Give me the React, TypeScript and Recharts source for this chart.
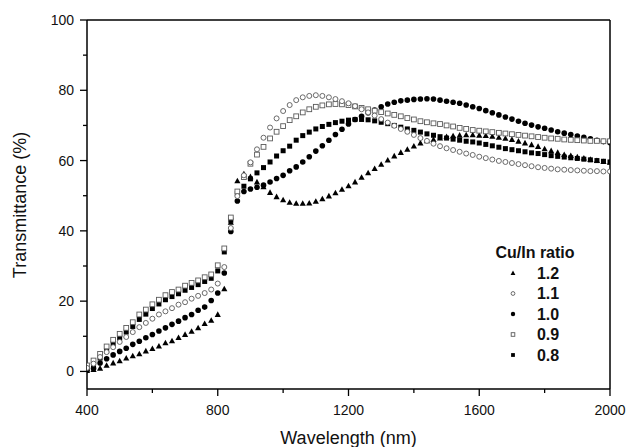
import React from 'react';
import { ScatterChart, Scatter, XAxis, YAxis, ReferenceLine } from 'recharts';

const wavelengths = [
  400, 420, 440, 460, 480, 500, 520, 540, 560, 580,
  600, 620, 640, 660, 680, 700, 720, 740, 760, 780,
  800, 820, 840, 860, 880, 900, 920, 940, 960, 980,
  1000, 1020, 1040, 1060, 1080, 1100, 1120, 1140, 1160, 1180,
  1200, 1220, 1240, 1260, 1280, 1300, 1320, 1340, 1360, 1380,
  1400, 1420, 1440, 1460, 1480, 1500, 1520, 1540, 1560, 1580,
  1600, 1620, 1640, 1660, 1680, 1700, 1720, 1740, 1760, 1780,
  1800, 1820, 1840, 1860, 1880, 1900, 1920, 1940, 1960, 1980,
  2000,
];

const ratio12 = [
  0.2, 0.5, 0.9, 1.7, 2.4, 3.0, 3.8, 4.4, 5.0, 5.8,
  6.5, 7.2, 8.1, 8.7, 9.6, 10.5, 11.4, 12.4, 13.6, 14.5,
  16.2, 23.5, 42.4, 54.2, 56.2, 55.4, 53.9, 52.5, 50.9, 49.7,
  48.8, 48.1, 47.8, 47.8, 47.9, 48.4, 49.1, 49.9, 50.8, 51.8,
  52.8, 53.9, 55.2, 56.5, 57.7, 58.9, 60.1, 61.3, 62.3, 63.2,
  64.1, 65.0, 65.6, 66.0, 66.4, 66.8, 67.0, 67.2, 67.3, 67.3,
  67.2, 67.1, 66.9, 66.6, 66.3, 66.0, 65.5, 65.0, 64.5, 64.0,
  63.3, 62.8, 62.3, 61.7, 61.4, 61.0, 60.7, 60.3, 60.0, 59.7,
  59.5,
];

const ratio11 = [
  1.0, 2.2, 4.1, 5.5, 6.9, 8.4, 9.8, 11.2, 12.6, 13.8,
  15.0, 16.2, 17.1, 18.0, 19.0, 19.7, 20.7, 21.5, 22.3, 23.3,
  25.0, 29.7, 40.8, 49.9, 55.8, 59.5, 63.2, 66.5, 69.4, 72.0,
  74.1, 75.8, 77.2, 78.0, 78.4, 78.6, 78.4, 78.0, 77.5, 76.9,
  76.3, 75.5, 74.6, 73.7, 72.8, 71.8, 70.8, 69.9, 69.0, 68.2,
  67.3, 66.4, 65.6, 64.8, 64.1, 63.5, 63.0, 62.5, 62.0, 61.6,
  61.1, 60.7, 60.3, 59.9, 59.6, 59.3, 59.0, 58.7, 58.4, 58.1,
  57.9, 57.7, 57.5, 57.4, 57.3, 57.2, 57.1, 57.0, 57.0, 56.9,
  56.9,
];

const ratio10 = [
  0.3, 0.8, 2.4, 3.6, 4.7, 5.7, 6.6, 7.7, 8.6, 9.6,
  10.5, 11.5, 12.4, 13.4, 14.3, 15.3, 16.2, 17.4, 18.3, 20.2,
  22.3, 28.0, 39.8, 48.5, 51.2, 51.9, 52.4, 53.0, 53.9, 54.9,
  55.8, 57.1, 58.2, 59.6, 61.1, 62.7, 64.2, 65.8, 67.4, 68.9,
  70.4, 71.7, 72.6, 73.6, 74.4, 75.3, 76.1, 76.6, 77.0, 77.2,
  77.4, 77.5, 77.6, 77.5, 77.2, 76.9, 76.6, 76.3, 75.8, 75.3,
  74.8, 74.2, 73.6, 73.0, 72.4, 71.8, 71.2, 70.6, 70.1, 69.6,
  69.2, 68.7, 68.2, 67.8, 67.4, 67.0, 66.6, 66.2, 65.8, 65.4,
  65.1,
];

const ratio09 = [
  1.7, 3.1, 5.0, 7.1, 9.0, 10.7, 12.4, 14.0, 16.2, 17.6,
  19.1, 20.4, 21.7, 22.6, 23.3, 24.4, 25.2, 25.9, 26.8, 27.6,
  30.2, 35.0, 43.8, 51.2, 55.3, 59.1, 61.7, 63.9, 66.3, 68.2,
  69.8, 71.5, 72.6, 73.7, 74.6, 75.3, 75.7, 76.0, 76.1, 76.0,
  75.8, 75.4, 75.0, 74.6, 74.2, 73.8, 73.4, 73.0, 72.6, 72.1,
  71.7, 71.2, 70.9, 70.6, 70.4, 70.0, 69.7, 69.3, 69.0, 68.7,
  68.5, 68.3, 68.1, 67.9, 67.7, 67.5, 67.3, 67.1, 66.9, 66.7,
  66.5, 66.3, 66.2, 66.0, 65.9, 65.8, 65.7, 65.6, 65.6, 65.5,
  65.5,
];

const ratio08 = [
  0.7, 1.9, 3.8, 5.9, 7.9, 9.6, 11.2, 12.8, 14.8, 16.3,
  17.9, 19.2, 20.4, 21.3, 22.1, 23.1, 23.9, 24.7, 25.6, 26.5,
  28.6, 34.0, 43.0, 50.6, 52.7, 54.8, 56.5, 58.0, 59.6, 61.3,
  62.8, 64.1, 65.8, 67.1, 68.1, 69.0, 69.7, 70.3, 70.8, 71.2,
  71.5, 71.7, 71.7, 71.6, 71.3, 70.9, 70.5, 70.0, 69.5, 69.0,
  68.6, 68.1, 67.6, 67.2, 66.8, 66.4, 66.1, 65.8, 65.5, 65.3,
  65.0, 64.6, 64.2, 63.8, 63.4, 63.1, 62.8, 62.5, 62.2, 62.0,
  61.7, 61.4, 61.2, 61.0, 60.8, 60.6, 60.4, 60.2, 60.0, 59.8,
  59.6,
];

const xTicks = [400, 600, 800, 1000, 1200, 1400, 1600, 1800, 2000];
const xLabelTicks = [400, 800, 1200, 1600, 2000];
const yTicks = [0, 10, 20, 30, 40, 50, 60, 70, 80, 90, 100];
const yLabelTicks = [0, 20, 40, 60, 80, 100];

const legendTitle = 'Cu/In ratio';
const seriesLabels = ['1.2', '1.1', '1.0', '0.9', '0.8'];
const seriesKinds = ['triangle', 'openCircle', 'circle', 'openSquare', 'square'];

const FONT = "Arial, 'Liberation Sans', sans-serif";
const OPEN_STROKE = '#5a5a5a';

const toPoints = (vals: number[]) => vals.map((v, i) => ({ x: wavelengths[i], y: v }));

function drawMarker(kind: string, cx: number, cy: number, s: number) {
  switch (kind) {
    case 'triangle': {
      const h = s * 0.95;
      const w = s * 1.1;
      return (
        <polygon
          points={`${cx},${cy - h * 0.6} ${cx - w / 2},${cy + h * 0.45} ${cx + w / 2},${cy + h * 0.45}`}
          fill="#000"
        />
      );
    }
    case 'openCircle':
      return <circle cx={cx} cy={cy} r={s / 2 - 0.3} fill="#fff" stroke={OPEN_STROKE} strokeWidth={0.9} />;
    case 'circle':
      return <circle cx={cx} cy={cy} r={s / 2} fill="#000" />;
    case 'openSquare': {
      const a = s - 0.8;
      return <rect x={cx - a / 2} y={cy - a / 2} width={a} height={a} fill="#fff" stroke={OPEN_STROKE} strokeWidth={0.9} />;
    }
    default: {
      const a = s - 0.6;
      return <rect x={cx - a / 2} y={cy - a / 2} width={a} height={a} fill="#000" />;
    }
  }
}

const makeShape = (kind: string) => (props: any) => {
  const { cx, cy } = props;
  if (cx == null || cy == null || isNaN(cx) || isNaN(cy)) return <g />;
  return drawMarker(kind, cx, cy, 5.6);
};

const XTick = (props: any) => {
  const { x, y, payload } = props;
  const v = payload.value;
  const major = xLabelTicks.indexOf(v) >= 0;
  return (
    <g>
      <line x1={x} x2={x} y1={y} y2={y + (major ? 7 : 4)} stroke="#000" strokeWidth={1.3} />
      {major && (
        <text x={x} y={y + 26} textAnchor="middle" fontSize={14} fontFamily={FONT} fill="#111">
          {v}
        </text>
      )}
    </g>
  );
};

const YTick = (props: any) => {
  const { x, y, payload } = props;
  const v = payload.value;
  const major = yLabelTicks.indexOf(v) >= 0;
  return (
    <g>
      <line x1={x - (major ? 7 : 4)} x2={x} y1={y} y2={y} stroke="#000" strokeWidth={1.3} />
      {major && (
        <text x={x - 13} y={y + 5} textAnchor="end" fontSize={14} fontFamily={FONT} fill="#111">
          {v}
        </text>
      )}
    </g>
  );
};

const seriesData = [ratio12, ratio11, ratio10, ratio09, ratio08];
// draw order: filled first, open (white-filled) on top
const drawOrder = [4, 2, 0, 3, 1];

export default function App() {
  const legendX = 513;
  const legendTextX = 548;
  const legendTitleY = 252;
  const legendRowYs = [273, 293.5, 314, 334.5, 355];
  return (
    <div style={{ position: 'absolute', left: 0, top: 0, width: 628, height: 447, background: '#fff' }}>
      <ScatterChart width={628} height={447} margin={{ top: 20, right: 18, left: 0, bottom: 0 }}>
        <XAxis
          type="number"
          dataKey="x"
          domain={[400, 2000]}
          ticks={xTicks}
          interval={0}
          tick={XTick}
          tickLine={false}
          tickSize={0}
          tickMargin={0}
          axisLine={{ stroke: '#000', strokeWidth: 1.5 }}
          height={58}
          allowDataOverflow
        />
        <YAxis
          type="number"
          dataKey="y"
          domain={[-5, 100]}
          ticks={yTicks}
          interval={0}
          tick={YTick}
          tickLine={false}
          tickSize={0}
          tickMargin={0}
          axisLine={{ stroke: '#000', strokeWidth: 1.5 }}
          width={87}
          allowDataOverflow
        />
        <ReferenceLine y={100} stroke="#000" strokeWidth={1.5} />
        <ReferenceLine x={2000} stroke="#000" strokeWidth={1.5} />
        {drawOrder.map((idx) => (
          <Scatter
            key={seriesLabels[idx]}
            name={seriesLabels[idx]}
            data={toPoints(seriesData[idx])}
            shape={makeShape(seriesKinds[idx])}
            isAnimationActive={false}
          />
        ))}
      </ScatterChart>
      <svg
        width={628}
        height={447}
        style={{ position: 'absolute', left: 0, top: 0, pointerEvents: 'none' }}
      >
        <text
          x={20}
          y={205}
          transform="rotate(-90, 20, 205)"
          textAnchor="middle"
          dominantBaseline="central"
          fontSize={18}
          fontFamily={FONT}
          fill="#111"
        >
          Transmittance (%)
        </text>
        <text x={348.5} y={444} textAnchor="middle" fontSize={18} fontFamily={FONT} fill="#111">
          Wavelength (nm)
        </text>
        <text
          x={535}
          y={legendTitleY}
          textAnchor="middle"
          dominantBaseline="central"
          fontSize={16}
          fontWeight="bold"
          fontFamily={FONT}
          fill="#111"
        >
          {legendTitle}
        </text>
        {seriesLabels.map((lab, i) => (
          <g key={lab}>
            {drawMarker(seriesKinds[i], legendX, legendRowYs[i], 4.4)}
            <text
              x={legendTextX}
              y={legendRowYs[i]}
              textAnchor="middle"
              dominantBaseline="central"
              fontSize={16}
              fontWeight="bold"
              fontFamily={FONT}
              fill="#111"
            >
              {lab}
            </text>
          </g>
        ))}
      </svg>
    </div>
  );
}
